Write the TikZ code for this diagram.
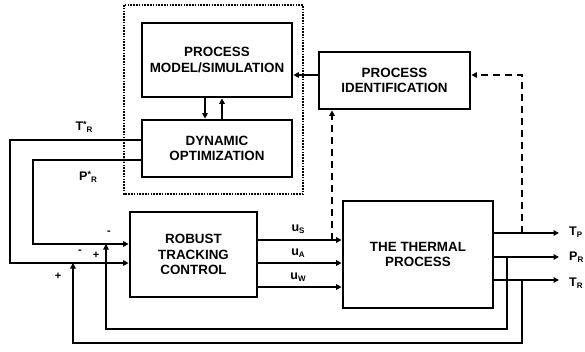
\documentclass[tikz,border=0pt]{standalone}
\usepackage{fontspec}
\setmainfont{Liberation Sans}
\usetikzlibrary{arrows.meta}
\newcommand{\lowsub}[1]{\raisebox{-2.5pt}{\fontsize{8}{8}\selectfont #1}}
\newcommand{\topstar}{\raisebox{2.5pt}{\fontsize{9}{9}\selectfont *}}
\begin{document}
\begin{tikzpicture}[x=1pt,y=-1pt,
  font=\fontsize{13.4}{15.5}\selectfont\bfseries,
  block/.style={draw,line width=2.8pt,align=center,inner sep=0pt},
  conn/.style={line width=2pt},
  arr/.style={conn,-{Triangle[length=5.5pt,width=5.5pt]}},
  dashline/.style={line width=2pt,dash pattern=on 7pt off 5pt},
  lbl/.style={inner sep=0pt,font=\fontsize{12.5}{14}\selectfont\bfseries},
  sgn/.style={inner sep=0pt,font=\fontsize{11}{12}\selectfont\bfseries}]
\useasboundingbox (0,0) rectangle (585,352);

% optimization layer frame
\draw[line width=2.4pt,dash pattern=on 1.6pt off 1.2pt] (124,5) rectangle (303,194);

% blocks
\node[block,minimum width=150pt,minimum height=74pt] (PM) at (217,60) {PROCESS\\MODEL/SIMULATION};
\node[block,minimum width=150pt,minimum height=57pt] (DO) at (217,148.5) {DYNAMIC\\OPTIMIZATION};
\node[block,minimum width=151pt,minimum height=57pt] (PI) at (394.5,80.5) {PROCESS\\IDENTIFICATION};
\node[block,minimum width=127pt,minimum height=85pt] (RTC) at (193.5,254.5) {ROBUST\\TRACKING\\CONTROL};
\node[block,minimum width=150pt,minimum height=107pt] (TP) at (418,254.5) {THE THERMAL\\PROCESS};

% model <-> optimization
\draw[arr] (PM.south -| 205,0) -- (DO.north -| 205,0);
\draw[arr] (DO.north -| 222,0) -- (PM.south -| 222,0);
% identification -> model
\draw[arr] (PI.west |- 0,75) -- (PM.east |- 0,75);

% reference trajectories
\draw[arr] (DO.west |- 0,140) -- (10,140) -- (10,263) -- (RTC.west |- 0,263);
\draw[arr] (DO.west |- 0,160) -- (33,160) -- (33,244) -- (RTC.west |- 0,244);
\fill (124,160) circle (1.7pt);
\node[lbl] (lT) at (84,127) {T\topstar\lowsub{R}};
\node[lbl] (lP) at (88,177) {P\topstar\lowsub{R}};

% control signals
\draw[arr] (RTC.east |- 0,240) -- (TP.west |- 0,240);
\draw[arr] (RTC.east |- 0,263) -- (TP.west |- 0,263);
\draw[arr] (RTC.east |- 0,287) -- (TP.west |- 0,287);
\node[lbl] (us) at (298,229) {u\lowsub{S}};
\node[lbl] (ua) at (298,253) {u\lowsub{A}};
\node[lbl] (uw) at (298,277) {u\lowsub{W}};

% process outputs
\draw[arr] (TP.east |- 0,233) -- (559,233) coordinate (oTP);
\draw[arr] (TP.east |- 0,257) -- (559,257) coordinate (oPR);
\draw[arr] (TP.east |- 0,280) -- (559,280) coordinate (oTR);
\node[lbl,anchor=west] (lTP) at (569,232) {T\lowsub{P}};
\node[lbl,anchor=west] (lPR) at (569,257) {P\lowsub{R}};
\node[lbl,anchor=west] (lTR) at (569,283) {T\lowsub{R}};

% identification data paths
\draw[dashline,-{Triangle[length=5.5pt,width=5.5pt]}] (332,240) -- (PI.south -| 332,0);
\draw[dashline,-{Triangle[length=5.5pt,width=5.5pt]}] (522,233) -- (522,75) -- (PI.east |- 0,75);

% feedback paths
\draw[arr] (507,257) -- (507,329) -- (106,329) -- (106,244);
\draw[arr] (522,280) -- (522,343) -- (73,343) -- (73,263);

% summing signs
\node[sgn] (s1) at (109,233) {-};
\node[sgn] (s2) at (80,252) {-};
\node[sgn] (s3) at (96,255) {+};
\node[sgn] (s4) at (58,276) {+};
\end{tikzpicture}
\end{document}
